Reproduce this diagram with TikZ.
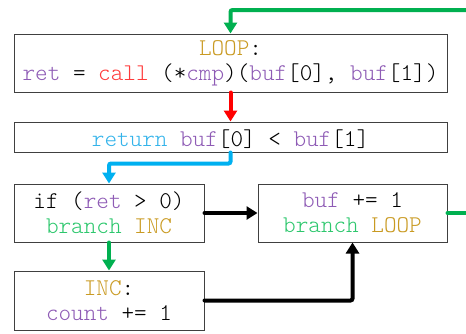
\documentclass[tikz,border=0pt]{standalone}
\usepackage{fontspec}
\setmonofont{Latin Modern Mono Light}
\usetikzlibrary{arrows.meta}
\definecolor{cpur}{HTML}{8E5BB5}
\definecolor{cgold}{HTML}{C99A22}
\definecolor{cred}{HTML}{FF3B3B}
\definecolor{cgrn}{HTML}{2DC76D}
\definecolor{cblu}{HTML}{33B3EA}
\definecolor{agrn}{HTML}{00B050}
\definecolor{ared}{HTML}{FF0000}
\definecolor{ablu}{HTML}{00B0F0}
\definecolor{boxgray}{HTML}{404040}
\begin{document}
\begin{tikzpicture}[x=1pt,y=-1pt,
  box/.style={draw=boxgray, line width=1pt, inner sep=0pt, align=center,
    font=\ttfamily\fontsize{24}{25}\selectfont,
    execute at begin node={\rule{0pt}{22pt}}},
  conn/.style={line width=4pt, line cap=round, rounded corners=2pt,
    -{Triangle[length=11pt,width=13pt]}},
  flow/.style={line width=4pt, line cap=round}]
\useasboundingbox (0,0) rectangle (466,333);
\node[box, minimum width=433pt, minimum height=58pt] (loop) at (230.5,63)
  {\textcolor{cgold}{LOOP}:\\\textcolor{cpur}{ret} = \textcolor{cred}{call} (*\textcolor{cpur}{cmp})(\textcolor{cpur}{buf}[0], \textcolor{cpur}{buf}[1])};
\node[box, minimum width=433pt, minimum height=30pt] (ret) at (230.5,137)
  {\textcolor{cblu}{return} \textcolor{cpur}{buf}[0] < \textcolor{cpur}{buf}[1]};
\node[box, minimum width=190pt, minimum height=58pt] (ifb) at (109,213)
  {if (\textcolor{cpur}{ret} > 0)\\\textcolor{cgrn}{branch} \textcolor{cgold}{INC}};
\node[box, minimum width=189pt, minimum height=58pt] (bufb) at (352.5,213)
  {\textcolor{cpur}{buf} += 1\\\textcolor{cgrn}{branch} \textcolor{cgold}{LOOP}};
\node[box, minimum width=190pt, minimum height=59pt] (inc) at (109,300.5)
  {\textcolor{cgold}{INC}:\\\textcolor{cpur}{count} += 1};
\coordinate (gin) at (472,10);
\coordinate (gout) at (472,213);
\draw[conn, agrn] (gin) -| (loop.north);
\draw[conn, ared] (loop.south) -- (ret.north);
\draw[conn, ablu] (ret.south) -- ++(0,11) -| (ifb.north);
\draw[conn, agrn] (ifb.south) -- (inc.north);
\draw[conn, black] (ifb.east) -- (bufb.west);
\draw[conn, black] (inc.east) -| (bufb.south);
\draw[flow, agrn] (bufb.east) -- (gout);
\end{tikzpicture}
\end{document}
